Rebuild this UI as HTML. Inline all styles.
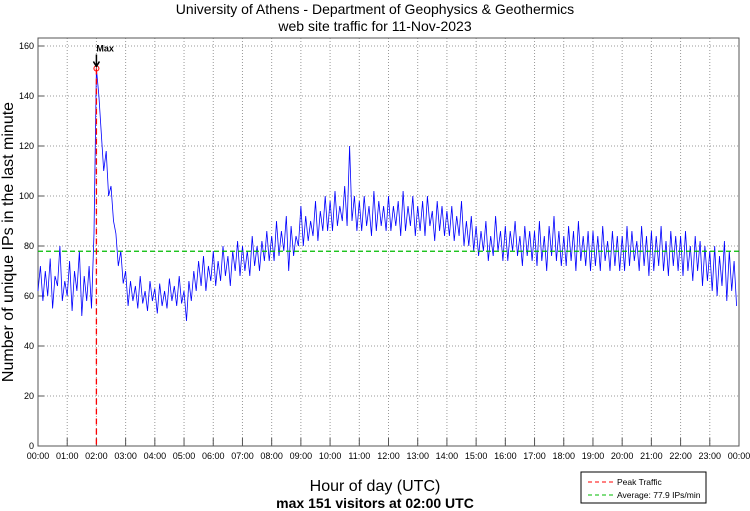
<!DOCTYPE html>
<html><head><meta charset="utf-8"><style>
body{margin:0;background:#fff;}
svg{display:block;font-family:"Liberation Sans",sans-serif;}
</style></head><body>
<svg id="chart" width="750" height="511">
<text x="375" y="14" font-size="14" text-anchor="middle">University of Athens - Department of Geophysics &amp; Geothermics</text>
<text x="375" y="31" font-size="14" text-anchor="middle">web site traffic for 11-Nov-2023</text>
<text transform="translate(13,242) rotate(-90)" font-size="16" text-anchor="middle">Number of unique IPs in the last minute</text>
<text x="375" y="491" font-size="16" text-anchor="middle">Hour of day (UTC)</text>
<text x="375" y="508" font-size="14" font-weight="bold" text-anchor="middle">max 151 visitors at 02:00 UTC</text>
<g id="grid"></g><g id="axes"></g><g id="marks"></g>
<g>
<rect x="581" y="472" width="125" height="31" fill="#fff" stroke="#000" stroke-width="1"/>
<line x1="588" y1="482" x2="613" y2="482" stroke="#f00" stroke-width="1" stroke-dasharray="4,3"/>
<text x="617" y="485" font-size="8.5">Peak Traffic</text>
<line x1="588" y1="495" x2="613" y2="495" stroke="#0b0" stroke-width="1" stroke-dasharray="4,3"/>
<text x="617" y="498" font-size="8.5">Average: 77.9 IPs/min</text>
</g>
</svg>
<script>
const hourLabels=["00:00","01:00","02:00","03:00","04:00","05:00","06:00","07:00","08:00","09:00","10:00","11:00","12:00","13:00","14:00","15:00","16:00","17:00","18:00","19:00","20:00","21:00","22:00","23:00","00:00"];
const yTicks=[0,20,40,60,80,100,120,140,160];
const visitors=[
62,72,58,70,60,75,55,68,64,80,58,66,
60,74,54,70,62,78,52,68,58,72,55,85,
151,140,125,110,118,100,104,90,85,72,78,65,
70,56,66,58,64,55,68,57,62,54,66,58,
63,53,65,56,62,55,67,58,64,56,68,57,
62,50,66,58,70,62,74,64,76,62,72,66,
78,64,74,66,80,68,76,64,78,70,82,68,
80,70,78,68,84,72,80,70,82,74,86,74,
84,74,90,76,86,78,92,70,88,76,84,80,
96,80,92,82,90,84,98,82,94,86,100,86,
98,86,102,88,96,90,104,88,120,90,100,86,
98,86,100,88,96,84,102,86,98,88,96,86,
100,86,96,88,98,84,102,86,96,88,100,84,
96,86,98,84,100,88,94,82,98,86,96,84,
94,84,96,82,92,84,98,80,90,80,92,78,
88,76,86,78,90,74,84,76,92,78,86,74,
88,74,86,78,90,76,84,72,88,76,86,74,
86,72,90,74,84,70,88,76,92,74,86,72,
84,72,88,74,86,70,90,74,84,72,86,70,
86,72,84,70,88,74,82,70,86,72,84,70,
84,70,88,72,86,74,82,70,88,72,84,68,
86,70,84,72,88,70,82,68,86,72,84,70,
84,68,86,70,80,66,84,70,82,64,80,66,
78,62,80,60,76,64,82,58,78,62,74,56];
const average=[77.9];
const peak=[2,151];
const L=38,R=739,T=38,B=446;
const xs=h=>L+(R-L)*h/24;
const ys=v=>B-(B-46)*v/160;
const NS="http://www.w3.org/2000/svg";
function mk(p,tag,at){const e=document.createElementNS(NS,tag);for(const k in at)e.setAttribute(k,at[k]);p.appendChild(e);return e;}
const grid=document.getElementById('grid'),axes=document.getElementById('axes'),marks=document.getElementById('marks');
hourLabels.forEach((lab,i)=>{
 const x=xs(i);
 if(i>0&&i<24){const g=mk(grid,'line',{x1:x,y1:T,x2:x,y2:B,stroke:'#999','stroke-dasharray':'1,2','stroke-width':1});
 
 }
 const t=mk(axes,'line',{x1:x,y1:B,x2:x,y2:B-8,stroke:'#555'});
 
 
 const tx=mk(axes,'text',{x:x,y:B+13,'font-size':9,'text-anchor':'middle'});tx.textContent=lab;
 
 
});
yTicks.forEach(v=>{
 const y=ys(v);
 if(v>0){const g=mk(grid,'line',{x1:L,y1:y,x2:R,y2:y,stroke:'#999','stroke-dasharray':'1,2','stroke-width':1});
 
 }
 const t=mk(axes,'line',{x1:L,y1:y,x2:L+6,y2:y,stroke:'#555'});
 
 
 const tx=mk(axes,'text',{x:L-4,y:y+3,'font-size':9,'text-anchor':'end'});tx.textContent=v;
 
 
});
const box=mk(axes,'rect',{x:L,y:T,width:R-L,height:B-T,fill:'none',stroke:'#555'});


const n=visitors.length;
const pts=visitors.map((v,i)=>xs(i*24/n).toFixed(1)+','+ys(v).toFixed(1)).join(' ');
const line=mk(marks,'polyline',{points:pts,fill:'none',stroke:'#00f','stroke-width':0.8});


const avg=mk(marks,'line',{x1:L,y1:ys(average[0]),x2:R,y2:ys(average[0]),stroke:'#0b0','stroke-width':1.3,'stroke-dasharray':'5,3'});


const pk=mk(marks,'line',{x1:xs(peak[0]),y1:ys(peak[1]),x2:xs(peak[0]),y2:B,stroke:'#f00','stroke-width':1.3,'stroke-dasharray':'6,4'});


const c=mk(marks,'circle',{cx:xs(peak[0]),cy:ys(peak[1]),r:2.5,fill:'none',stroke:'#f00'});


const ar=mk(marks,'path',{d:`M${xs(peak[0])},${ys(peak[1])-14}V${ys(peak[1])-3}M${xs(peak[0])-3},${ys(peak[1])-7}L${xs(peak[0])},${ys(peak[1])-2}L${xs(peak[0])+3},${ys(peak[1])-7}`,stroke:'#000','stroke-width':1.5,fill:'none'});


const ml=mk(marks,'text',{x:xs(peak[0]),y:ys(peak[1])-17,'font-size':9,'font-weight':'bold'});ml.textContent='Max';


</script>
</body></html>
